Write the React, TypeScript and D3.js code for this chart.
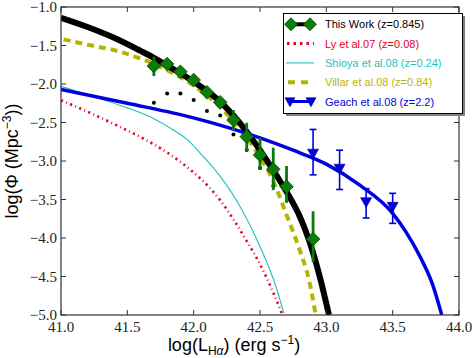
import React from "react";
import * as d3 from "d3";

// ---------- data ----------
const xTicks = [41.0, 41.5, 42.0, 42.5, 43.0, 43.5, 44.0];
const yTicks = [-1.0, -1.5, -2.0, -2.5, -3.0, -3.5, -4.0, -4.5, -5.0];

// This Work data points (log L, log Phi, err up, err down)
const workL = [41.7, 41.8, 41.9, 42.0, 42.1, 42.2, 42.3, 42.4, 42.5, 42.6, 42.7, 42.9];
const workPhi = [-1.766, -1.74, -1.84, -1.948, -2.108, -2.238, -2.468, -2.684, -2.922, -3.108, -3.334, -4.013];
const workErrUp = [0.12, 0.05, 0.05, 0.05, 0.05, 0.05, 0.13, 0.18, 0.22, 0.28, 0.27, 0.36];
const workErrDn = [0.13, 0.05, 0.05, 0.05, 0.05, 0.05, 0.13, 0.19, 0.19, 0.27, 0.21, 0.30];

// small black dots
const dotL = [41.7, 41.8, 41.9, 42.0, 42.1, 42.2, 42.3, 42.4, 42.5, 42.6];
const dotPhi = [-2.243, -2.123, -2.123, -2.208, -2.351, -2.409, -2.656, -2.857, -3.091, -3.325];

// This Work fit (black)
const workFitL = [41.0, 41.2, 41.4, 41.6, 41.7, 41.8, 41.9, 42.0, 42.1, 42.2, 42.3, 42.4, 42.5, 42.6, 42.7, 42.8, 42.87, 42.95, 43.02];
const workFitPhi = [-1.14, -1.26, -1.40, -1.57, -1.66, -1.76, -1.86, -1.97, -2.09, -2.23, -2.41, -2.62, -2.86, -3.12, -3.40, -3.72, -4.03, -4.50, -5.0];

// Ly et al.07 (red)
const lyL = [41.0, 41.2, 41.4, 41.6, 41.8, 42.0, 42.1, 42.2, 42.3, 42.4, 42.5, 42.6, 42.67];
const lyPhi = [-2.21, -2.36, -2.52, -2.69, -2.89, -3.15, -3.31, -3.51, -3.76, -4.04, -4.34, -4.71, -5.0];

// Shioya et al.08 (cyan)
const shL = [41.0, 41.33, 41.5, 41.7, 41.85, 41.95, 42.05, 42.2, 42.35, 42.5, 42.62, 42.68];
const shPhi = [-2.03, -2.21, -2.31, -2.45, -2.6, -2.72, -2.9, -3.2, -3.59, -4.11, -4.63, -4.98];

// Villar et al.08 (yellow)
const viL = [41.02, 41.2, 41.4, 41.6, 41.8, 42.0, 42.2, 42.4, 42.5, 42.6, 42.7, 42.8, 42.87, 42.92];
const viPhi = [-1.42, -1.49, -1.56, -1.67, -1.82, -2.02, -2.30, -2.70, -2.95, -3.26, -3.70, -4.16, -4.55, -5.0];

// Geach et al.08 fit (blue)
const geL = [41.0, 41.5, 42.0, 42.5, 42.75, 43.0, 43.25, 43.5, 43.6, 43.7, 43.8, 43.87];
const gePhi = [-2.07, -2.25, -2.44, -2.70, -2.86, -3.04, -3.31, -3.68, -3.92, -4.22, -4.6, -5.0];

// Geach data
const geDataL = [42.9, 43.1, 43.3, 43.5];
const geDataPhi = [-2.90, -3.095, -3.53, -3.59];
const geErrUp = [0.31, 0.235, 0.17, 0.17];
const geErrDn = [0.28, 0.275, 0.21, 0.22];

const legendLabels = ["This Work (z=0.845)", "Ly et al.07 (z=0.08)", "Shioya et al.08 (z=0.24)", "Villar et al.08 (z=0.84)", "Geach et al.08 (z=2.2)"];
const legendColors = ["#000000", "#e8001c", "#1fbfbf", "#b5b500", "#0000e0"];

// ---------- layout ----------
const W = 474, H = 358;
const L = 61, R = 459, T = 7, B = 315;

export default function App() {
  const x = d3.scaleLinear().domain([41, 44]).range([L, R]);
  const y = d3.scaleLinear().domain([-5, -1]).range([B, T]);
  const line = (xs: number[], ys: number[]) =>
    d3.line<number>().x((_, i) => x(xs[i])).y((_, i) => y(ys[i])).curve(d3.curveMonotoneX)(xs) || "";

  const diamond = (cx: number, cy: number, r: number) =>
    `M${cx},${cy - r}L${cx + r},${cy}L${cx},${cy + r}L${cx - r},${cy}Z`;
  const triDown = (cx: number, cy: number, s: number) =>
    `M${cx - s},${cy - s * 0.75}L${cx + s},${cy - s * 0.75}L${cx},${cy + s * 1.05}Z`;

  const serif = "'Liberation Serif', 'DejaVu Serif', serif";
  const sans = "'Liberation Sans', Arial, sans-serif";
  const tickLen = 5;

  const lx = 284, lyTop = 24.3, lstep = 19.3;

  return (
    <svg width={W} height={H} style={{ position: "absolute", left: 0, top: 0, background: "#fff" }}>
      <defs>
        <clipPath id="plotclip">
          <rect x={L} y={T} width={R - L} height={B - T} />
        </clipPath>
      </defs>
      <rect x={0} y={0} width={W} height={H} fill="#fff" />
      <g clipPath="url(#plotclip)">
        <path d={line(lyL, lyPhi)} fill="none" stroke="#e8001c" strokeWidth={2.6} strokeDasharray="2.2,3.4,0.9,3.4" />
        <path d={line(shL, shPhi)} fill="none" stroke="#1fbfbf" strokeWidth={1.1} />
        <path d={line(viL, viPhi)} fill="none" stroke="#b5b500" strokeWidth={4} strokeDasharray="7,5" />
        <path d={line(workFitL, workFitPhi)} fill="none" stroke="#000" strokeWidth={6} />
        <path d={line(geL, gePhi)} fill="none" stroke="#0000e0" strokeWidth={3.5} />
        {dotL.map((v, i) => (
          <circle key={"d" + i} cx={x(v)} cy={y(dotPhi[i])} r={2} fill="#000" />
        ))}
        {workL.map((v, i) => (
          <line key={"we" + i} x1={x(v)} x2={x(v)} y1={y(workPhi[i] + workErrUp[i])} y2={y(workPhi[i] - workErrDn[i])}
            stroke="#0a7a0a" strokeWidth={2.8} />
        ))}
        {workL.map((v, i) => (
          <path key={"wd" + i} d={diamond(x(v), y(workPhi[i]), 6.8)} fill="#0b7d0b" stroke="#044a04" strokeWidth={0.8} />
        ))}
        {geDataL.map((v, i) => (
          <g key={"g" + i}>
            <line x1={x(v)} x2={x(v)} y1={y(geDataPhi[i] + geErrUp[i])} y2={y(geDataPhi[i] - geErrDn[i])} stroke="#0000e0" strokeWidth={1.6} />
            <line x1={x(v) - 3.5} x2={x(v) + 3.5} y1={y(geDataPhi[i] + geErrUp[i])} y2={y(geDataPhi[i] + geErrUp[i])} stroke="#0000e0" strokeWidth={1.6} />
            <line x1={x(v) - 3.5} x2={x(v) + 3.5} y1={y(geDataPhi[i] - geErrDn[i])} y2={y(geDataPhi[i] - geErrDn[i])} stroke="#0000e0" strokeWidth={1.6} />
            <path d={triDown(x(v), y(geDataPhi[i]), 5.5)} fill="#0000e0" stroke="#00008a" strokeWidth={0.6} />
          </g>
        ))}
      </g>

      {/* axes frame */}
      <rect x={L} y={T} width={R - L} height={B - T} fill="none" stroke="#333" strokeWidth={1.2} />
      {xTicks.map((t) => (
        <g key={"xt" + t}>
          <line x1={x(t)} x2={x(t)} y1={B} y2={B - tickLen} stroke="#333" />
          <line x1={x(t)} x2={x(t)} y1={T} y2={T + tickLen} stroke="#333" />
          <text x={x(t)} y={332} textAnchor="middle" fontFamily={serif} fontSize={15} fill="#222">{t.toFixed(1)}</text>
        </g>
      ))}
      {yTicks.map((t) => (
        <g key={"yt" + t}>
          <line x1={L} x2={L + tickLen} y1={y(t)} y2={y(t)} stroke="#333" />
          <line x1={R} x2={R - tickLen} y1={y(t)} y2={y(t)} stroke="#333" />
          <text x={57} y={y(t) + 5} textAnchor="end" fontFamily={serif} fontSize={15} fill="#222">{"\u2212" + Math.abs(t).toFixed(1)}</text>
        </g>
      ))}

      {/* axis labels */}
      <text x={W / 2 - 3} y={351} textAnchor="middle" fontFamily={sans} fontSize={18} fill="#000">
        log(L<tspan fontSize={12} dy={4}>H</tspan><tspan fontSize={12} fontStyle="italic">α</tspan><tspan dy={-4}>) (erg s</tspan>
        <tspan fontSize={12} dy={-7}>{"\u22121"}</tspan><tspan dy={7}>)</tspan>
      </text>
      <text transform={`translate(18,${(T + B) / 2}) rotate(-90)`} textAnchor="middle" fontFamily={sans} fontSize={18} fill="#000">
        log(Φ (Mpc<tspan fontSize={12} dy={-7}>{"\u22123"}</tspan><tspan dy={7}>))</tspan>
      </text>

      {/* legend */}
      <rect x={286} y={16} width={179} height={100} fill="#7f7f7f" />
      <rect x={283.5} y={13.5} width={179} height={100} fill="#fff" stroke="#000" strokeWidth={1} />
      {/* This Work */}
      <line x1={lx + 7} x2={lx + 26} y1={lyTop} y2={lyTop} stroke="#000" strokeWidth={4} />
      <path d={diamond(lx + 7, lyTop, 6.5)} fill="#0b7d0b" stroke="#044a04" strokeWidth={0.8} />
      <path d={diamond(lx + 26, lyTop, 6.5)} fill="#0b7d0b" stroke="#044a04" strokeWidth={0.8} />
      {/* Ly */}
      <line x1={lx + 3} x2={lx + 30} y1={lyTop + lstep} y2={lyTop + lstep} stroke="#e8001c" strokeWidth={3} strokeDasharray="2.5,4" />
      {/* Shioya */}
      <line x1={lx + 2} x2={lx + 30} y1={lyTop + 2 * lstep} y2={lyTop + 2 * lstep} stroke="#1fbfbf" strokeWidth={1.1} />
      {/* Villar */}
      <line x1={lx + 4} x2={lx + 30} y1={lyTop + 3 * lstep} y2={lyTop + 3 * lstep} stroke="#b5b500" strokeWidth={4} strokeDasharray="7,6" />
      {/* Geach */}
      <line x1={lx + 6} x2={lx + 27} y1={lyTop + 4 * lstep} y2={lyTop + 4 * lstep} stroke="#0000e0" strokeWidth={3} />
      <path d={triDown(lx + 6, lyTop + 4 * lstep, 5)} fill="#0000e0" stroke="#00008a" strokeWidth={0.6} />
      <path d={triDown(lx + 27, lyTop + 4 * lstep, 5)} fill="#0000e0" stroke="#00008a" strokeWidth={0.6} />
      {legendLabels.map((s, i) => (
        <text key={"lg" + i} x={325} y={lyTop + i * lstep + 4} fontFamily={sans} fontSize={11} fill={legendColors[i]}>{s}</text>
      ))}
    </svg>
  );
}
